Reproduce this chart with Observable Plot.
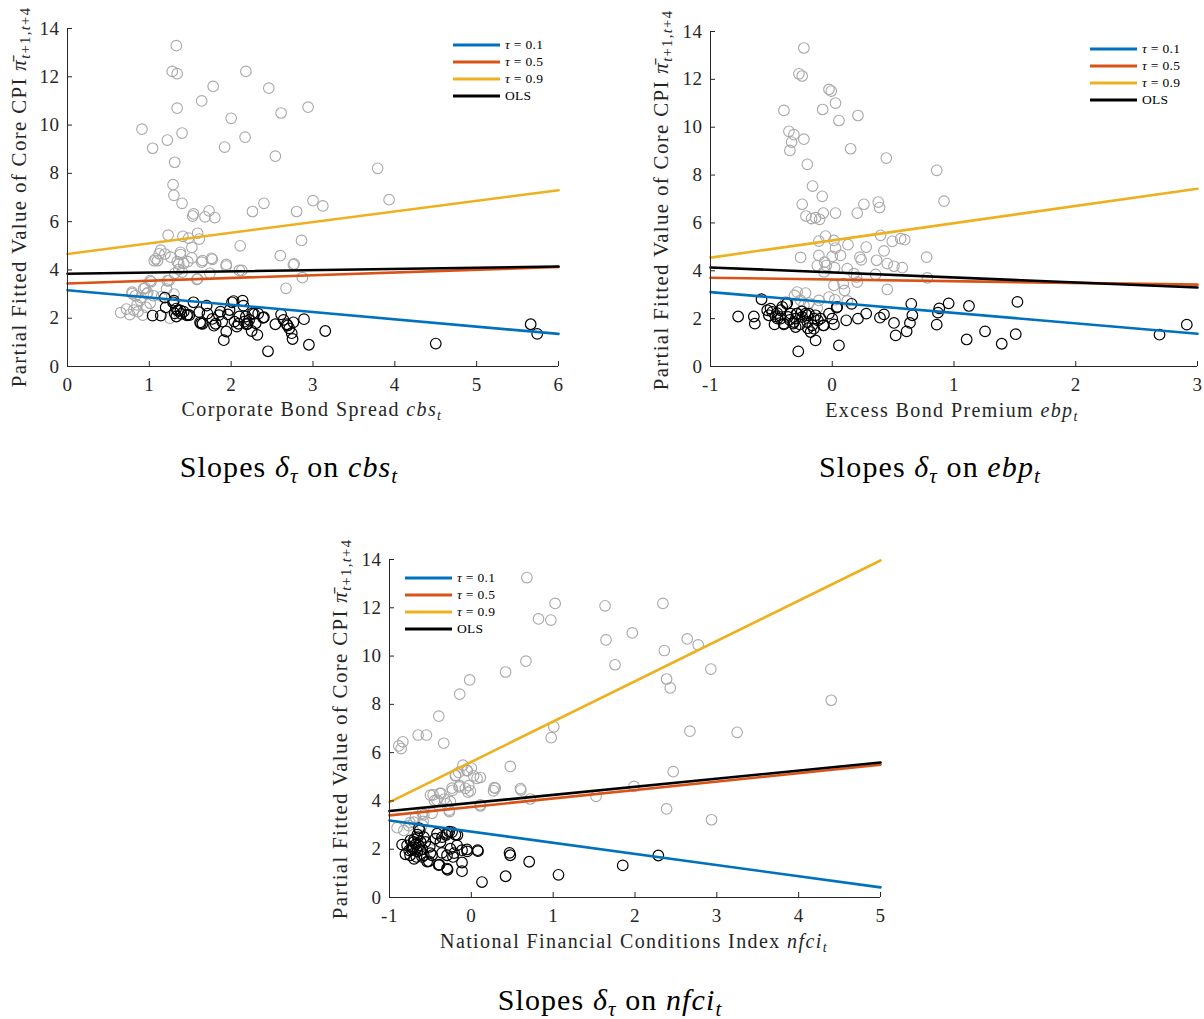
<!DOCTYPE html>
<html>
<head>
<meta charset="utf-8">
<script src="https://cdn.jsdelivr.net/npm/d3@7"></script>
<script src="https://cdn.jsdelivr.net/npm/@observablehq/plot@0.6"></script>
<style>
  body { margin: 0; background: #fff; }
  #wrap { position: relative; width: 1204px; height: 1019px; font-family: "Liberation Serif", Tinos, "Times New Roman", "DejaVu Serif", serif; color: #262626; }
  .abs { position: absolute; white-space: nowrap; }
  .ylab { font-size: 21px; letter-spacing: 1.3px; transform: translate(-50%, -50%) rotate(-90deg); }
  .xlab { font-size: 20px; letter-spacing: 1.4px; transform: translate(-50%, -50%); }
  .title { font-size: 30px; letter-spacing: 1.1px; color: #000; transform: translate(-50%, -50%); }
  sub { font-size: 70%; vertical-align: -0.3em; line-height: 0; }
  .legend { font-size: 13.5px; letter-spacing: 0.3px; color: #000; }
  .legend .row { height: 17px; display: flex; align-items: center; }
  .legend svg { margin-right: 4px; }
</style>
</head>
<body>
<div id="wrap"></div>
<script>
// ---------- data ----------
const fitLabels = ["τ = 0.1", "τ = 0.5", "τ = 0.9", "OLS"];
const fitColors = ["#0072BD", "#D95319", "#EDB120", "#000000"];
const yTicks = [0, 2, 4, 6, 8, 10, 12, 14];

// Panel 1: corporate bond spread
const cbsDomain = [0, 6];
const cbsTicks = [0, 1, 2, 3, 4, 5, 6];
const cbsFitStart = [3.16, 3.44, 4.66, 3.84];
const cbsFitEnd = [1.35, 4.12, 7.30, 4.14];
const cbsGray = [[1.33,13.29],[1.28,12.22],[1.34,12.13],[2.18,12.22],[1.78,11.6],[2.46,11.53],[1.64,11.0],[1.34,10.7],[2.61,10.5],[2.94,10.74],[2.0,10.28],[0.91,9.83],[1.22,9.38],[1.40,9.67],[1.04,9.04],[2.17,9.5],[1.92,9.09],[2.54,8.71],[1.31,8.46],[3.79,8.21],[1.29,7.53],[1.30,7.09],[1.40,6.76],[3.93,6.91],[3.0,6.87],[3.12,6.65],[2.40,6.76],[2.26,6.42],[2.80,6.42],[1.73,6.45],[1.54,6.32],[1.53,6.23],[1.68,6.2],[1.80,6.17],[1.23,5.44],[1.41,5.39],[1.48,5.32],[1.59,5.52],[1.61,5.28],[1.52,4.93],[2.11,5.0],[2.86,5.22],[1.14,4.82],[1.19,4.66],[1.26,4.53],[1.38,4.64],[1.52,4.5],[1.76,4.48],[1.77,4.44],[2.60,4.59],[1.06,4.38],[1.10,4.38],[1.34,4.34],[1.42,4.27],[1.47,4.34],[1.64,4.32],[1.94,4.16],[2.10,3.98],[2.13,3.98],[2.76,4.21],[1.74,3.86],[1.31,3.86],[1.36,4.02],[2.87,3.68],[1.58,3.61],[2.67,3.24],[1.22,3.55],[1.02,3.51],[0.95,3.26],[1.21,3.21],[0.79,3.02],[0.83,2.93],[0.98,3.06],[1.05,2.93],[0.72,2.38],[0.65,2.23],[0.76,2.15],[0.81,2.34],[0.85,2.55],[0.89,2.74],[0.92,2.13],[0.96,2.45],[1.01,2.62],[1.25,2.0],[0.86,2.27],[0.79,3.08],[0.93,3.22],[0.97,3.01],[1.01,3.56],[1.08,4.46],[1.12,4.67],[1.38,4.73],[1.36,4.25],[1.40,3.91],[1.24,3.56],[1.59,3.63],[1.65,4.39],[1.94,4.23],[2.77,4.25],[1.15,2.9],[0.9,2.85],[1.3,3.0]];
const cbsBlack = [[1.04,2.11],[1.14,2.11],[1.19,2.85],[1.20,2.45],[1.29,2.66],[1.31,2.2],[1.33,2.07],[1.35,2.31],[1.39,2.18],[1.42,2.27],[1.46,2.12],[1.49,2.13],[1.54,2.66],[1.61,2.25],[1.62,1.83],[1.63,1.78],[1.70,2.52],[1.71,2.19],[1.77,1.97],[1.79,1.69],[1.85,2.13],[1.87,2.27],[1.89,1.86],[1.91,1.09],[1.94,1.45],[1.96,2.16],[1.98,2.34],[2.01,2.66],[2.03,2.71],[2.04,1.86],[2.07,1.65],[2.10,2.07],[2.14,2.73],[2.15,2.52],[2.16,1.86],[2.18,2.07],[2.19,1.75],[2.22,1.93],[2.25,1.47],[2.26,2.2],[2.30,1.79],[2.32,1.31],[2.33,2.19],[2.39,2.02],[2.45,0.63],[2.54,1.75],[2.61,2.16],[2.64,1.93],[2.68,1.75],[2.71,1.58],[2.74,1.38],[2.75,1.14],[2.76,1.83],[2.89,1.96],[2.95,0.9],[3.15,1.47],[4.50,0.95],[5.66,1.75],[5.74,1.35],[1.38,2.32],[1.47,2.15],[1.65,1.77],[1.81,1.77],[2.09,1.77],[2.20,1.77],[2.28,2.18],[2.40,2.04],[2.69,1.70],[1.33,2.40],[1.30,2.73]];

// Panel 2: excess bond premium
const ebpDomain = [-1, 3];
const ebpTicks = [-1, 0, 1, 2, 3];
const ebpFitStart = [3.11, 3.71, 4.55, 4.14];
const ebpFitEnd = [1.37, 3.42, 7.43, 3.30];
const ebpGray = [[-0.233,13.31],[-0.274,12.23],[-0.247,12.14],[-0.027,11.58],[-0.008,11.51],[0.027,11.01],[-0.397,10.70],[-0.079,10.74],[0.055,10.28],[0.211,10.49],[-0.356,9.83],[-0.315,9.69],[-0.334,9.38],[-0.233,9.50],[-0.348,9.03],[0.151,9.10],[0.444,8.71],[-0.205,8.45],[0.858,8.20],[-0.162,7.54],[-0.082,7.11],[0.918,6.91],[-0.247,6.78],[0.260,6.78],[0.378,6.87],[0.389,6.64],[-0.216,6.29],[-0.170,6.18],[-0.137,6.22],[-0.104,6.15],[-0.074,6.41],[0.027,6.41],[0.205,6.41],[0.397,5.48],[-0.055,5.45],[-0.110,5.24],[0.014,5.27],[0.493,5.23],[0.562,5.34],[0.595,5.30],[0.129,5.09],[0.279,4.99],[0.027,4.95],[0.425,4.83],[-0.260,4.56],[-0.110,4.64],[0.0,4.60],[0.068,4.64],[0.227,4.57],[0.238,4.46],[0.364,4.44],[0.775,4.57],[-0.123,4.22],[-0.063,4.36],[-0.049,4.22],[0.019,4.13],[0.123,4.09],[0.452,4.30],[0.507,4.19],[0.575,4.13],[-0.068,3.95],[0.178,3.88],[0.200,3.74],[0.356,3.85],[0.781,3.70],[0.014,3.39],[0.090,3.46],[0.205,3.53],[0.101,3.18],[0.452,3.22],[-0.288,3.11],[-0.219,3.07],[-0.310,2.97],[-0.260,2.76],[-0.027,2.90],[0.022,2.79],[0.123,2.74],[-0.110,2.76],[-0.192,2.65],[-0.233,2.55],[-0.384,2.69],[-0.123,2.44]];
const ebpBlack = [[-0.773,2.09],[-0.644,2.09],[-0.636,1.79],[-0.581,2.81],[-0.534,2.35],[-0.521,2.14],[-0.493,2.28],[-0.474,1.76],[-0.452,2.23],[-0.425,2.00],[-0.411,2.49],[-0.397,1.76],[-0.375,2.62],[-0.364,2.07],[-0.342,2.21],[-0.321,1.79],[-0.301,1.65],[-0.293,2.21],[-0.279,0.63],[-0.266,1.76],[-0.247,2.07],[-0.219,2.21],[-0.205,1.86],[-0.192,2.21],[-0.178,1.44],[-0.164,1.72],[-0.151,1.58],[-0.137,2.14],[-0.137,1.09],[-0.118,1.93],[-0.096,2.00],[-0.074,1.72],[-0.027,2.21],[0.0,2.00],[0.014,1.76],[0.036,2.46],[0.055,0.88],[0.115,1.93],[0.159,2.62],[0.211,2.00],[0.279,2.21],[0.392,2.04],[0.425,2.18],[0.507,1.82],[0.521,1.30],[0.611,1.47],[0.638,1.82],[0.649,2.62],[0.658,2.14],[0.858,1.75],[0.868,2.25],[0.879,2.43],[0.956,2.64],[1.104,1.13],[1.123,2.53],[1.255,1.47],[1.392,0.95],[1.507,1.35],[1.521,2.70],[2.688,1.33],[2.912,1.75],[-0.507,2.42],[-0.466,2.10],[-0.425,2.35],[-0.398,1.79],[-0.370,2.65],[-0.316,1.86],[-0.288,2.21],[-0.206,2.14],[-0.069,1.72],[0.041,2.49],[-0.35,1.95],[-0.25,2.3],[-0.15,2.0],[-0.45,2.0],[-0.3,2.0],[-0.2,1.6]];

// Panel 3: national financial conditions index
const nfciDomain = [-1, 5];
const nfciTicks = [-1, 0, 1, 2, 3, 4, 5];
const nfciFitStart = [3.19, 3.40, 3.95, 3.58];
const nfciFitEnd = [0.42, 5.50, 13.96, 5.59];
const nfciGray = [[0.679,13.25],[1.024,12.18],[1.634,12.08],[2.341,12.18],[0.821,11.54],[0.972,11.49],[1.967,10.96],[1.646,10.67],[2.638,10.71],[2.772,10.46],[2.358,10.23],[0.667,9.79],[0.419,9.34],[1.756,9.64],[2.927,9.46],[-0.020,9.01],[2.386,9.05],[2.431,8.68],[-0.142,8.42],[4.398,8.17],[-0.398,7.51],[-0.650,6.73],[-0.549,6.73],[1.008,7.07],[0.976,6.62],[2.671,6.89],[3.248,6.84],[-0.886,6.28],[-0.858,6.17],[-0.837,6.45],[-0.337,6.39],[-0.102,5.48],[0.476,5.43],[0.0,5.36],[-0.154,5.18],[-0.053,5.25],[-0.195,5.04],[0.028,5.04],[0.110,4.97],[2.467,5.21],[-0.236,4.53],[-0.142,4.63],[-0.073,4.52],[-0.033,4.63],[-0.041,4.36],[-0.012,4.42],[0.293,4.53],[0.272,4.42],[0.606,4.45],[1.988,4.60],[-0.467,4.25],[-0.386,4.31],[-0.329,4.08],[-0.449,4.01],[-0.256,3.97],[-0.305,3.88],[0.110,3.84],[0.720,4.08],[1.524,4.19],[-0.268,3.56],[-0.480,3.49],[-0.581,3.43],[-0.683,3.33],[2.386,3.67],[2.935,3.22],[-0.703,3.12],[-0.589,3.15],[-0.907,2.89],[-0.825,2.78],[-0.764,2.98],[-0.05,5.27],[-0.19,5.06],[0.07,4.93],[-0.15,4.58],[-0.23,4.44],[-0.37,4.31],[-0.50,4.24],[0.28,4.55],[0.60,4.51],[0.11,3.79],[-0.27,3.62],[-0.60,3.49],[-0.42,4.03],[-0.46,2.39],[-0.6,3.0],[-0.75,3.1]];
const nfciBlack = [[2.285,1.74],[1.850,1.33],[1.065,0.94],[0.707,1.48],[0.419,0.88],[0.130,0.64],[0.467,1.85],[0.476,1.75],[0.077,1.96],[0.081,1.92],[-0.053,1.99],[-0.114,1.96],[-0.114,1.45],[-0.114,1.09],[-0.224,1.68],[-0.195,2.60],[-0.236,2.71],[-0.297,2.67],[-0.358,2.50],[-0.378,2.30],[-0.398,1.34],[-0.297,1.20],[-0.297,1.75],[-0.358,1.85],[-0.508,2.10],[-0.480,1.75],[-0.520,1.50],[-0.581,1.75],[-0.622,1.96],[-0.630,2.78],[-0.654,2.50],[-0.703,2.30],[-0.724,1.96],[-0.748,1.75],[-0.785,2.16],[-0.805,1.79],[-0.846,2.19],[-0.671,1.68],[-0.703,2.09],[-0.642,2.16],[-0.744,2.37],[-0.561,2.30],[-0.602,1.68],[-0.256,2.02],[-0.175,2.16],[-0.439,2.44],[-0.419,2.64],[-0.64,2.87],[-0.54,1.49],[-0.50,1.84],[-0.39,1.36],[-0.31,2.59],[-0.29,1.15],[-0.27,2.73],[-0.21,1.84],[-0.17,2.59],[-0.05,1.91],[-0.7,2.4],[-0.68,2.2],[-0.66,1.9],[-0.62,2.3],[-0.6,2.0],[-0.58,2.5],[-0.72,2.05],[-0.76,1.95],[-0.66,2.6],[-0.7,1.6]];

// ---------- drawing ----------
const wrap = document.getElementById("wrap");
const axisColor = "#262626";
const fontFamily = '"Liberation Serif", Tinos, "Times New Roman", "DejaVu Serif", serif';

function panel({left, top, width, height, ml, mr, mt, mb, xDomain, xTicks, gray, black, fitStart, fitEnd}) {
  const lineMarks = fitLabels.map((_, i) => Plot.line(
    [{x: xDomain[0], y: fitStart[i]}, {x: xDomain[1], y: fitEnd[i]}],
    {x: "x", y: "y", stroke: fitColors[i], strokeWidth: 2.6}
  ));
  const chart = Plot.plot({
    width, height,
    marginLeft: ml, marginRight: mr, marginTop: mt, marginBottom: mb,
    style: {fontFamily, fontSize: "19px", letterSpacing: "0.5px", color: axisColor, background: "transparent", overflow: "visible"},
    x: {domain: xDomain},
    y: {domain: [0, 14]},
    marks: [
      Plot.dot(gray, {x: d => d[0], y: d => d[1], r: 5.3, stroke: "#a8a8a8", strokeWidth: 1.1, fill: "none"}),
      Plot.dot(black, {x: d => d[0], y: d => d[1], r: 5.3, stroke: "#000", strokeWidth: 1.2, fill: "none"}),
      ...lineMarks,
      Plot.ruleX([xDomain[0]], {y1: 0, y2: 14, stroke: axisColor}),
      Plot.ruleY([0], {x1: xDomain[0], x2: xDomain[1], stroke: axisColor}),
      Plot.axisX({ticks: xTicks, tickSize: -5, tickFormat: () => "", stroke: axisColor, label: null}),
      Plot.axisY({ticks: yTicks, tickSize: -5, tickFormat: () => "", stroke: axisColor, label: null}),
      Plot.axisX({ticks: xTicks, tickSize: 0, tickPadding: 11, tickFormat: d => String(d), label: null, fill: axisColor}),
      Plot.axisY({ticks: yTicks, tickSize: 0, tickPadding: 8, tickFormat: d => String(d), label: null, fill: axisColor})
    ]
  });
  chart.style.position = "absolute";
  chart.style.left = left + "px";
  chart.style.top = top + "px";
  wrap.appendChild(chart);
}

function addText(cls, html, x, y) {
  const d = document.createElement("div");
  d.className = "abs " + cls;
  d.style.left = x + "px";
  d.style.top = y + "px";
  d.innerHTML = html;
  wrap.appendChild(d);
}

function addLegend(x, y) {
  const d = document.createElement("div");
  d.className = "abs legend";
  d.style.left = x + "px";
  d.style.top = y + "px";
  fitLabels.forEach((lab, i) => {
    const row = document.createElement("div");
    row.className = "row";
    const txt = lab.startsWith("τ") ? "<i>τ</i>" + lab.slice(1) : lab;
    row.innerHTML = `<svg width="48" height="6"><line x1="0" y1="3" x2="47" y2="3" stroke="${fitColors[i]}" stroke-width="2.8"/></svg><span>${txt}</span>`;
    d.appendChild(row);
  });
  wrap.appendChild(d);
}

const yLabHtml = 'Partial Fitted Value of Core CPI <i>π\u0304</i><sub><i>t</i>+1,<i>t</i>+4</sub>';

// Panel 1
panel({left: 0, top: 0, width: 600, height: 400, ml: 67, mr: 42, mt: 28, mb: 34,
  xDomain: cbsDomain, xTicks: cbsTicks, gray: cbsGray, black: cbsBlack, fitStart: cbsFitStart, fitEnd: cbsFitEnd});
addText("ylab", yLabHtml, 19, 197);
addText("xlab", 'Corporate Bond Spread <i>cbs</i><sub><i>t</i></sub>', 312, 409);
addText("title", 'Slopes <i>δ</i><sub><i>τ</i></sub> on <i>cbs</i><sub><i>t</i></sub>', 289, 467);
addLegend(453, 36);

// Panel 2
panel({left: 640, top: 0, width: 564, height: 400, ml: 70, mr: 7, mt: 31, mb: 34,
  xDomain: ebpDomain, xTicks: ebpTicks, gray: ebpGray, black: ebpBlack, fitStart: ebpFitStart, fitEnd: ebpFitEnd});
addText("ylab", yLabHtml, 661, 200);
addText("xlab", 'Excess Bond Premium <i>ebp</i><sub><i>t</i></sub>', 952, 410);
addText("title", 'Slopes <i>δ</i><sub><i>τ</i></sub> on <i>ebp</i><sub><i>t</i></sub>', 930, 467);
addLegend(1090, 40);

// Panel 3
panel({left: 320, top: 530, width: 600, height: 400, ml: 69, mr: 40, mt: 29, mb: 33,
  xDomain: nfciDomain, xTicks: nfciTicks, gray: nfciGray, black: nfciBlack, fitStart: nfciFitStart, fitEnd: nfciFitEnd});
addText("ylab", yLabHtml, 340, 729);
addText("xlab", 'National Financial Conditions Index <i>nfci</i><sub><i>t</i></sub>', 634, 941);
addText("title", 'Slopes <i>δ</i><sub><i>τ</i></sub> on <i>nfci</i><sub><i>t</i></sub>', 610, 1000);
addLegend(405, 569);
</script>
</body>
</html>
